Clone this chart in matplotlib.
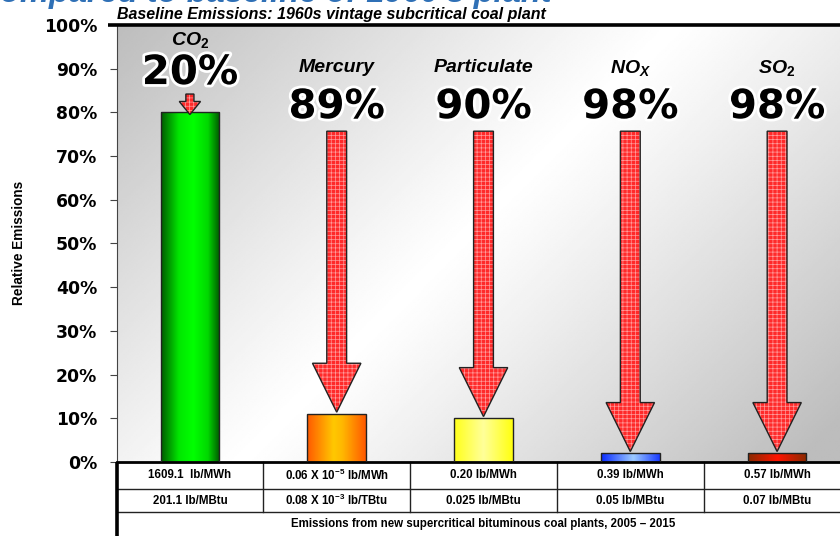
import numpy as np
import matplotlib.pyplot as plt
import matplotlib.patheffects as pe
import matplotlib.transforms as mtransforms
from matplotlib.colors import LinearSegmentedColormap
from matplotlib.patches import FancyArrow, Rectangle

plt.rcParams['font.family'] = ['Liberation Sans', 'DejaVu Sans']
plt.rcParams['mathtext.fontset'] = 'custom'
plt.rcParams['mathtext.rm'] = 'Liberation Sans:bold'
plt.rcParams['mathtext.it'] = 'Liberation Sans:italic:bold'
plt.rcParams['mathtext.bf'] = 'Liberation Sans:bold'
plt.rcParams['hatch.linewidth'] = 0.5

# data
pollutants = [r'CO$_{\mathit{2}}$', 'Mercury', 'Particulate', r'NO$_{\mathit{X}}$', r'SO$_{\mathit{2}}$']
reduction = [20, 89, 90, 98, 98]          # % cut vs. 1960s plant
relative = [100 - r for r in reduction]   # bar height, % of baseline
per_mwh = ['1609.1  lb/MWh', r'0.06 X 10$^{\mathrm{-5}}$ lb/MWh', '0.20 lb/MWh',
           '0.39 lb/MWh', '0.57 lb/MWh']
per_mbtu = ['201.1 lb/MBtu', r'0.08 X 10$^{\mathrm{-3}}$ lb/TBtu', '0.025 lb/MBtu',
            '0.05 lb/MBtu', '0.07 lb/MBtu']
yticks = list(range(0, 101, 10))

# horizontal shading of each bar: edge -> centre -> edge
bar_shades = [
    [(0, '#005c00'), (0.3, '#00e600'), (0.55, '#00ff00'), (0.8, '#00d800'), (1, '#005a00')],
    [(0, '#ff5a00'), (0.45, '#ffc800'), (0.6, '#ffb800'), (1, '#ff5a00')],
    [(0, '#ffff1a'), (0.5, '#ffff9a'), (1, '#ffff10')],
    [(0, '#0a2cff'), (0.55, '#9ccaff'), (1, '#1a3cff')],
    [(0, '#8a2a00'), (0.5, '#ff1400'), (1, '#8a2a00')],
]

fig = plt.figure(figsize=(8.4, 5.36), dpi=100)
ax = fig.add_axes([116.5 / 840, 1 - 462 / 536, 734 / 840, 437 / 536])
x = np.arange(len(pollutants))
ax.set_xlim(-0.5, 4.5)
ax.set_ylim(0, 100)

# grey diagonal background, light in the middle
W, H = 734, 437
gx, gy = np.meshgrid(np.linspace(0, W, 400), np.linspace(0, H, 240))
s = gx + gy
shade = 1 - 0.26 * np.clip(np.abs(s - 560) / 560, 0, 1) ** 1.1
ax.imshow(shade, extent=(-0.5, 4.5, 0, 100), origin='upper', aspect='auto',
          cmap='gray', vmin=0, vmax=1, zorder=0, interpolation='bilinear')

bars = ax.bar(x, relative, width=0.4, facecolor='none', edgecolor='#222222',
              linewidth=1.0, zorder=3)
for b, stops in zip(bars, bar_shades):
    cmap = LinearSegmentedColormap.from_list('bar', stops)
    im = ax.imshow(np.linspace(0, 1, 100)[None, :], cmap=cmap, aspect='auto',
                   extent=(b.get_x(), b.get_x() + b.get_width(), 0, b.get_height()),
                   zorder=2, interpolation='bilinear')
    im.set_clip_path(b)


def draw_arrow(xc, top, tip, width, head_w, head_len):
    kw = dict(width=width, head_width=head_w, head_length=head_len,
              length_includes_head=True)
    ax.add_patch(FancyArrow(xc, top, 0, tip - top, facecolor='#ff2a2a',
                            edgecolor='#ff9c9c', hatch='++++', linewidth=0,
                            zorder=4, **kw))
    ax.add_patch(FancyArrow(xc, top, 0, tip - top, fill=False,
                            edgecolor='#222222', linewidth=1.0, zorder=5, **kw))


draw_arrow(x[0], 84.2, relative[0] - 0.5, 0.055, 0.145, 3.0)
for xi, val in zip(x[1:], relative[1:]):
    draw_arrow(xi, 75.7, val + 0.4, 0.135, 0.33, 11.2)

halo = [pe.withStroke(linewidth=4, foreground='white')]
for i, (name, red) in enumerate(zip(pollutants, reduction)):
    name_y, pct_y = (96.6, 89.0) if i == 0 else (90.2, 81.2)
    ax.text(x[i], name_y, name, ha='center', va='center', fontsize=14,
            fontweight='bold', style='italic', zorder=6)
    ax.text(x[i], pct_y, f'{red}%', ha='center', va='center', fontsize=29,
            fontweight='bold', family='DejaVu Sans', path_effects=halo, zorder=6)

# axis styling
for side in ('top', 'right'):
    ax.spines[side].set_visible(False)
ax.spines['left'].set_color('#444444')
ax.spines['left'].set_linewidth(0.8)
ax.spines['bottom'].set_color('black')
ax.spines['bottom'].set_linewidth(2)
ax.set_xticks([])
ax.set_yticks(yticks)
ax.set_yticklabels([f'{t}%' for t in yticks], fontsize=12.4, fontweight='bold',
                   family='DejaVu Sans')
ax.tick_params(axis='y', direction='out', length=5, width=0.8, color='#444444', pad=9)
ax.plot([-0.012, 1], [1, 1], transform=ax.transAxes, color='black', lw=2.6,
        clip_on=False, zorder=7, solid_capstyle='butt')

# value table under the bars
trans = mtransforms.blended_transform_factory(ax.transData, ax.transAxes)
r1, r2, r3 = -27 / 437, -50 / 437, -80 / 437
ax.add_patch(Rectangle((-0.5, r3), 5, -r3, transform=trans, facecolor='white',
                       edgecolor='none', clip_on=False, zorder=1))
for yy in (r1, r2):
    ax.plot([-0.5, 4.5], [yy, yy], transform=trans, color='#222222', lw=1.0,
            clip_on=False)
for xd in x[:-1] + 0.5:
    ax.plot([xd, xd], [0, r2], transform=trans, color='#222222', lw=1.0,
            clip_on=False)
ax.plot([-0.5, -0.5], [0, r3], transform=trans, color='black', lw=2.6,
        clip_on=False, solid_capstyle='butt')
for xi, a, b in zip(x, per_mwh, per_mbtu):
    ax.text(xi, r1 / 2, a, transform=trans, ha='center', va='center',
            fontsize=8.3, fontweight='bold')
    ax.text(xi, (r1 + r2) / 2, b, transform=trans, ha='center', va='center',
            fontsize=8.3, fontweight='bold')
ax.text(2.0, -62 / 437, 'Emissions from new supercritical bituminous coal plants, 2005 \u2013 2015',
        transform=trans, ha='center', va='center', fontsize=8.3, fontweight='bold')

fig.text(19 / 840, 1 - 243 / 536, 'Relative Emissions', rotation=90, ha='center',
         va='center', fontsize=9.8, fontweight='bold')
fig.text(117 / 840, 1 - 19 / 536, 'Baseline Emissions: 1960s vintage subcritical coal plant',
         ha='left', va='baseline', fontsize=11.5, fontweight='bold', style='italic')
fig.text(-18 / 840, 1 - 2 / 536, "compared to baseline of 1960's plant", ha='left',
         va='baseline', fontsize=23.5, fontweight='bold', style='italic', color='#2f70b6')

fig.savefig('out.png', dpi=100)
